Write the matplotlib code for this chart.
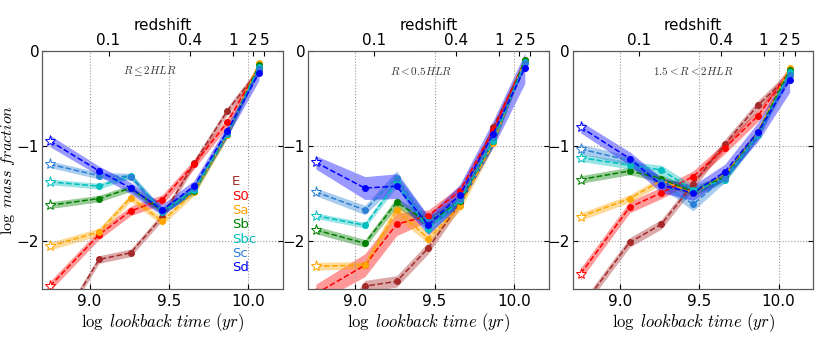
import matplotlib
matplotlib.use("Agg")
import matplotlib.pyplot as plt
import numpy as np

plt.rcParams['mathtext.fontset'] = 'cm'

# log lookback time of each age bin (first one = star marker)
lbt = [8.75, 9.06, 9.26, 9.46, 9.66, 9.87, 10.07]

types = ['E', 'S0', 'Sa', 'Sb', 'Sbc', 'Sc', 'Sd']
colors = ['brown', 'red', 'orange', 'green', 'c', '#2b80d5', 'blue']

regions = [r'$R \leq 2HLR$', r'$R < 0.5HLR$', r'$1.5 < R < 2HLR$']

z_labels = ['0.1', '0.4', '1', '2', '5']
z_lbt = [9.12, 9.635, 9.905, 10.03, 10.105]

# --- R <= 2 HLR ---
E_2 = [-3.05, -2.19, -2.12, -1.74, -1.18, -0.63, -0.20]
S0_2 = [-2.47, -1.93, -1.68, -1.56, -1.19, -0.75, -0.17]
Sa_2 = [-2.05, -1.90, -1.54, -1.79, -1.48, -0.88, -0.13]
Sb_2 = [-1.62, -1.55, -1.44, -1.68, -1.47, -0.87, -0.15]
Sbc_2 = [-1.375, -1.42, -1.31, -1.69, -1.46, -0.87, -0.17]
Sc_2 = [-1.19, -1.31, -1.32, -1.68, -1.44, -0.86, -0.19]
Sd_2 = [-0.945, -1.26, -1.44, -1.67, -1.42, -0.84, -0.23]

eE_2 = [0.04, 0.04, 0.04, 0.04, 0.04, 0.04, 0.04]
eS0_2 = [0.05, 0.05, 0.05, 0.05, 0.05, 0.05, 0.05]
eSa_2 = [0.04, 0.04, 0.04, 0.04, 0.04, 0.04, 0.04]
eSb_2 = [0.035, 0.035, 0.035, 0.035, 0.035, 0.035, 0.035]
eSbc_2 = [0.03, 0.03, 0.03, 0.03, 0.03, 0.03, 0.03]
eSc_2 = [0.035, 0.035, 0.035, 0.035, 0.035, 0.035, 0.04]
eSd_2 = [0.06, 0.05, 0.06, 0.06, 0.06, 0.06, 0.08]

# --- R < 0.5 HLR ---
E_05 = [-3.2, -2.47, -2.42, -2.07, -1.60, -0.80, -0.12]
S0_05 = [-2.55, -2.25, -1.82, -1.73, -1.47, -0.83, -0.10]
Sa_05 = [-2.26, -2.25, -1.67, -1.97, -1.63, -0.97, -0.09]
Sb_05 = [-1.88, -2.02, -1.59, -1.80, -1.58, -0.95, -0.09]
Sbc_05 = [-1.73, -1.83, -1.38, -1.87, -1.57, -0.95, -0.12]
Sc_05 = [-1.48, -1.67, -1.33, -1.80, -1.55, -0.90, -0.13]
Sd_05 = [-1.17, -1.44, -1.42, -1.83, -1.51, -0.87, -0.18]

eE_05 = [0.06, 0.06, 0.06, 0.06, 0.05, 0.04, 0.04]
eS0_05 = [0.10, 0.12, 0.12, 0.06, 0.05, 0.04, 0.04]
eSa_05 = [0.04, 0.04, 0.08, 0.05, 0.05, 0.04, 0.03]
eSb_05 = [0.04, 0.04, 0.05, 0.05, 0.04, 0.04, 0.03]
eSbc_05 = [0.03, 0.03, 0.05, 0.05, 0.04, 0.04, 0.03]
eSc_05 = [0.04, 0.05, 0.07, 0.06, 0.05, 0.04, 0.04]
eSd_05 = [0.07, 0.12, 0.13, 0.10, 0.11, 0.14, 0.16]

# --- 1.5 < R < 2 HLR ---
E_15 = [-2.70, -2.01, -1.82, -1.40, -0.98, -0.57, -0.25]
S0_15 = [-2.34, -1.64, -1.49, -1.32, -1.02, -0.68, -0.22]
Sa_15 = [-1.74, -1.55, -1.36, -1.49, -1.31, -0.85, -0.18]
Sb_15 = [-1.35, -1.26, -1.34, -1.48, -1.32, -0.86, -0.20]
Sbc_15 = [-1.12, -1.20, -1.25, -1.46, -1.35, -0.88, -0.22]
Sc_15 = [-1.03, -1.15, -1.38, -1.61, -1.33, -0.87, -0.25]
Sd_15 = [-0.80, -1.13, -1.41, -1.49, -1.27, -0.85, -0.305]

eE_15 = [0.05, 0.05, 0.05, 0.05, 0.05, 0.05, 0.05]
eS0_15 = [0.06, 0.06, 0.06, 0.06, 0.06, 0.06, 0.06]
eSa_15 = [0.04, 0.04, 0.04, 0.04, 0.04, 0.04, 0.04]
eSb_15 = [0.04, 0.04, 0.04, 0.04, 0.04, 0.04, 0.04]
eSbc_15 = [0.04, 0.04, 0.05, 0.05, 0.04, 0.04, 0.04]
eSc_15 = [0.05, 0.05, 0.05, 0.07, 0.05, 0.05, 0.05]
eSd_15 = [0.06, 0.07, 0.08, 0.08, 0.08, 0.10, 0.13]

panels = [
    ([E_2, S0_2, Sa_2, Sb_2, Sbc_2, Sc_2, Sd_2],
     [eE_2, eS0_2, eSa_2, eSb_2, eSbc_2, eSc_2, eSd_2]),
    ([E_05, S0_05, Sa_05, Sb_05, Sbc_05, Sc_05, Sd_05],
     [eE_05, eS0_05, eSa_05, eSb_05, eSbc_05, eSc_05, eSd_05]),
    ([E_15, S0_15, Sa_15, Sb_15, Sbc_15, Sc_15, Sd_15],
     [eE_15, eS0_15, eSa_15, eSb_15, eSbc_15, eSc_15, eSd_15]),
]

fig = plt.figure(figsize=(8.3, 3.41), dpi=100)
lefts = [0.0506, 0.371, 0.690]
text_x = [0.45, 0.47, 0.50]

x = np.array(lbt)
for i, (vals, errs) in enumerate(panels):
    ax = fig.add_axes([lefts[i], 0.1525, 0.290, 0.698])
    for y, e, c in zip(vals, errs, colors):
        y = np.array(y)
        e = np.array(e)
        ax.fill_between(x, y - e, y + e, color=c, alpha=0.4, lw=0)
        ax.plot(x, y, '--', color=c, lw=1.1)
        ax.plot(x[1:], y[1:], 'o', color=c, ms=4, mec=c)
        ax.plot(x[:1], y[:1], '*', color=c, ms=8, mfc='white', mec=c, mew=0.7)

    ax.set_xlim(8.7, 10.22)
    ax.set_ylim(-2.5, 0)
    ax.set_xticks([9.0, 9.5, 10.0])
    ax.set_xticklabels(['9.0', '9.5', '10.0'])
    ax.set_yticks([0, -1, -2])
    ax.set_yticklabels(['0', '\u22121', '\u22122'])
    ax.tick_params(direction='in', labelsize=11, top=False, right=True)
    ax.tick_params(axis='y', pad=2)
    ax.grid(True, ls=':', color='0.6', lw=0.8)
    for s in ax.spines.values():
        s.set_color('0.35')
    ax.set_xlabel(r'$\log\ lookback\ time\ (yr)$', fontsize=12, labelpad=2)
    if i == 0:
        ax.set_ylabel(r'$\log\ mass\ fraction$', fontsize=11.5, labelpad=0)
    ax.text(text_x[i], 0.915, regions[i], transform=ax.transAxes,
            ha='center', va='center', fontsize=8, color='0.2')

    top = ax.twiny()
    top.set_xlim(ax.get_xlim())
    top.set_xticks(z_lbt)
    top.set_xticklabels(z_labels)
    top.tick_params(direction='in', labelsize=11, pad=2)
    top.set_xlabel('redshift', fontsize=11, labelpad=2)
    for s in top.spines.values():
        s.set_color('0.35')

    if i == 0:
        for k, (t, c) in enumerate(zip(types, colors)):
            ax.text(0.79, 0.45 - k * 0.06, t, transform=ax.transAxes,
                    color=c, fontsize=9.5, ha='left', va='center')

fig.savefig('out.png', dpi=100)
